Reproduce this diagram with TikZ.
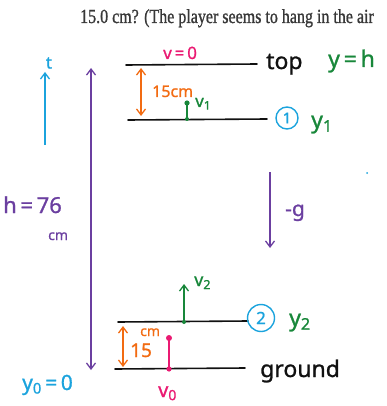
\documentclass[tikz,border=0pt]{standalone}
\usepackage{fontspec}
\setmainfont{Liberation Serif}
\newfontfamily\hdrfont[FakeBold=1.2]{Liberation Serif}
\newfontfamily\hand[FakeBold=1]{Noto Sans}
\usetikzlibrary{arrows.meta}
\definecolor{mag}{HTML}{EA1A72}
\definecolor{grn}{HTML}{18873A}
\definecolor{cyn}{HTML}{1BA3DD}
\definecolor{pur}{HTML}{6B3FA0}
\definecolor{org}{HTML}{F26B12}
\definecolor{ink}{HTML}{111111}
\newcommand{\hs}[1]{\hand\fontsize{#1}{#1}\selectfont}
\begin{document}
\begin{tikzpicture}[x=1pt,y=-1pt,
  lvl/.style={draw=ink,line width=1.6pt,line cap=round},
  tip/.style={-{Straight Barb[length=6pt,width=9pt]}},
  tiptwo/.style={{Straight Barb[length=6pt,width=9pt]}-{Straight Barb[length=6pt,width=9pt]}},
  lab/.style={inner sep=0pt,anchor=base west},
  circ/.style={draw=cyn,line width=1.4pt,circle,inner sep=0pt,text=cyn}]
\useasboundingbox (0,0) rectangle (387,406);
% header text
\begin{scope}
\clip (0,0) rectangle (387,406);
\node[anchor=base west,inner sep=0pt,text=black!78,font=\hdrfont\fontsize{20}{20}\selectfont,xscale=0.80] (hdr) at (80,23) {15.0 cm? (The player seems to hang in the air};
\end{scope}
% levels
\coordinate (topL) at (126,65); \coordinate (topR) at (257,64);
\draw[lvl] (topL) -- (topR);
\coordinate (oneL) at (128,120); \coordinate (oneR) at (267,119);
\draw[lvl] (oneL) -- (oneR);
\coordinate (twoL) at (118,322); \coordinate (twoR) at (248,321);
\draw[lvl] (twoL) -- (twoR);
\coordinate (gndL) at (115,369); \coordinate (gndR) at (245,368);
\draw[lvl] (gndL) -- (gndR);
% time axis
\coordinate (tb) at (45,145); \coordinate (tt) at (45,72);
\draw[cyn,line width=1.3pt,tip] (tb) -- (tt);
\node[text=cyn,font=\hs{17},inner sep=0pt] (tlab) at (49,63) {t};
\fill[cyn] (367,173) circle (1pt);
% height double arrow
\coordinate (ha) at (91,68); \coordinate (hb) at (91,370);
\draw[pur,line width=1.3pt,tiptwo] (ha) -- (hb);
\node[lab,text=pur,font=\hs{22}] (hl) at (3,213) {h\,=\,76};
\node[lab,text=pur,font=\hs{14}] (hcm) at (48,240) {cm};
% top labels
\node[lab,text=mag,font=\hs{17}] (v0top) at (163,59) {v\,=\,0};
\node[lab,text=ink,font=\hs{23}] (toplab) at (266,69) {top};
\node[lab,text=grn,font=\hs{23}] (yh) at (328,67) {y\,=\,h};
% 15 cm upper
\coordinate (oa) at (141,68); \coordinate (ob) at (141,116);
\draw[org,line width=1.3pt,tiptwo] (oa) -- (ob);
\node[lab,text=org,font=\hs{16}] (c15a) at (152,97) {15cm};
% v1
\coordinate (v1b) at (187,119); \coordinate (v1t) at (187,103);
\draw[grn,line width=1.3pt] (v1b) -- (v1t);
\fill[grn] (v1b) circle (2pt); \fill[grn] (v1t) circle (2.6pt);
\node[lab,text=grn,font=\hs{17}] (v1) at (195,107) {v\textsubscript{1}};
\node[circ,minimum size=22pt,font=\hs{15}] (c1) at (287,118) {1};
\node[lab,text=grn,font=\hs{23}] (y1) at (311,128) {y\textsubscript{1}};
% gravity
\coordinate (ga) at (270,172); \coordinate (gb) at (270,248);
\draw[pur,line width=1.3pt,tip] (ga) -- (gb);
\node[lab,text=pur,font=\hs{21}] (g) at (285,216) {-g};
% v2
\coordinate (v2b) at (184,322); \coordinate (v2t) at (184,284);
\draw[grn,line width=1.3pt,tip] (v2b) -- (v2t);
\fill[grn] (v2b) circle (2pt);
\node[lab,text=grn,font=\hs{18}] (v2) at (194,286) {v\textsubscript{2}};
\node[circ,minimum size=27pt,font=\hs{17}] (c2) at (261,318) {2};
\node[lab,text=grn,font=\hs{23}] (y2) at (289,326) {y\textsubscript{2}};
% lower 15 cm
\coordinate (pa) at (123,326); \coordinate (pb) at (123,367);
\draw[org,line width=1.3pt,tiptwo] (pa) -- (pb);
\node[lab,text=org,font=\hs{19}] (c15b) at (130,357) {15};
\node[lab,text=org,font=\hs{14}] (cmb) at (140,336) {cm};
% v0
\coordinate (v0b) at (169,369); \coordinate (v0t) at (169,338);
\draw[mag,line width=1.3pt] (v0b) -- (v0t);
\fill[mag] (v0b) circle (2.6pt); \fill[mag] (v0t) circle (3pt);
\node[lab,text=mag,font=\hs{20}] (v0) at (158,397) {v\textsubscript{0}};
\node[lab,text=ink,font=\hs{23}] (gnd) at (260,377) {ground};
\node[lab,text=cyn,font=\hs{21}] (y0) at (22,390) {y\textsubscript{0}\,=\,0};
\end{tikzpicture}
\end{document}
